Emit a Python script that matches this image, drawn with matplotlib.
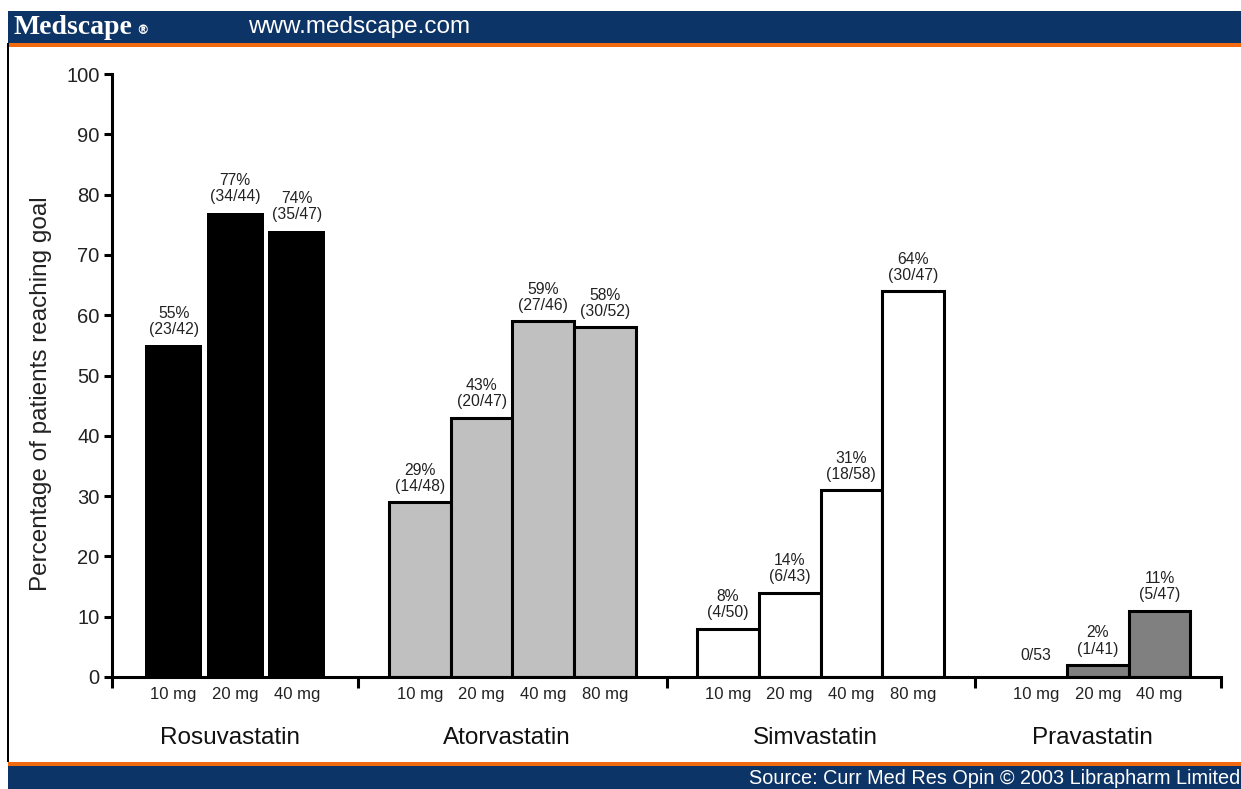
import matplotlib
matplotlib.use('Agg')
import matplotlib.pyplot as plt
from matplotlib.patches import Rectangle
import numpy as np

plt.rcParams['font.family'] = ['Liberation Sans', 'DejaVu Sans']

# percentage of patients reaching goal, by statin and dose
groups = ['Rosuvastatin', 'Atorvastatin', 'Simvastatin', 'Pravastatin']
rosu_doses = ['10 mg', '20 mg', '40 mg']
rosu_pct = [55, 77, 74]
rosu_n = ['23/42', '34/44', '35/47']
ator_doses = ['10 mg', '20 mg', '40 mg', '80 mg']
ator_pct = [29, 43, 59, 58]
ator_n = ['14/48', '20/47', '27/46', '30/52']
simv_doses = ['10 mg', '20 mg', '40 mg', '80 mg']
simv_pct = [8, 14, 31, 64]
simv_n = ['4/50', '6/43', '18/58', '30/47']
prav_doses = ['10 mg', '20 mg', '40 mg']
prav_pct = [0, 2, 11]
prav_n = ['0/53', '1/41', '5/47']

yticks = [0, 10, 20, 30, 40, 50, 60, 70, 80, 90, 100]

NAVY = '#0d3466'
ORANGE = '#f26a10'
W, H = 1241, 789

fig = plt.figure(figsize=(W / 100, H / 100), dpi=100)
fig.patch.set_facecolor('white')

def px_rect(x0, y0, x1, y1, color, z=1):
    # rectangle given in pixel coords measured from the top-left corner
    fig.add_artist(Rectangle((x0 / W, 1 - y1 / H), (x1 - x0) / W, (y1 - y0) / H,
                             transform=fig.transFigure, facecolor=color,
                             edgecolor='none', zorder=z))

# header / footer bands
px_rect(8, 11, W, 43, NAVY)
px_rect(8, 43, W, 47, ORANGE)
px_rect(8, 762, W, 766, ORANGE)
px_rect(8, 766, W, H, NAVY)
px_rect(7, 43, 9, 762, 'black')

fig.text(14 / W, 1 - 28 / H, 'Medscape', family=['Liberation Serif', 'DejaVu Serif'],
         fontsize=20, color='white', va='center', ha='left', fontweight='bold')
fig.text(136 / W, 1 - 30 / H, '\u00ae', family=['DejaVu Sans'], fontsize=9,
         color='white', va='center', ha='left', fontweight='bold')
fig.text(248 / W, 1 - 27 / H, 'www.medscape.com', fontsize=17.5, color='white',
         va='center', ha='left')
fig.text(1240 / W, 1 - 778 / H, 'Source: Curr Med Res Opin \u00a9 2003 Librapharm Limited',
         fontsize=14.3, color='white', va='center', ha='right')

ax = fig.add_axes([112 / W, 112 / H, (1221 - 112) / W, (715 - 112) / H])
ax.set_xlim(0, 18)
ax.set_ylim(0, 100)

# doses, values, counts, face, edge, bar width, edge width
series = [
    (rosu_doses, rosu_pct, rosu_n, 'black', 'black', 0.92, 0),
    (ator_doses, ator_pct, ator_n, '#c0c0c0', 'black', 1.0, 2.2),
    (simv_doses, simv_pct, simv_n, 'white', 'black', 1.0, 2.2),
    (prav_doses, prav_pct, prav_n, '#808080', 'black', 1.0, 2.2),
]

start = 0
bounds = [0]
xt = ax.get_xaxis_transform()
for name, (doses, pct, n, fc, ec, width, lw) in zip(groups, series):
    xs = start + 1 + np.arange(len(doses))
    shown = [p > 0 for p in pct]
    ax.bar(xs[shown], np.array(pct)[shown], width=width, color=fc,
           edgecolor=ec, linewidth=lw, zorder=2)
    for x, p, frac, d in zip(xs, pct, n, doses):
        lab = f'{p}%\n({frac})' if p > 0 else frac
        ax.annotate(lab, (x, p), xytext=(0, 6 if p > 0 else 10),
                    textcoords='offset points', ha='center', va='bottom',
                    fontsize=11.3, color='#222222', linespacing=1.1)
        ax.annotate(d, (x, 0), xycoords=xt, xytext=(0, -12.5),
                    textcoords='offset points', ha='center', va='center',
                    fontsize=12, color='#222222')
    end = start + len(doses) + 1
    ax.annotate(name, ((start + end) / 2, 0), xycoords=xt, xytext=(-4, -44),
                textcoords='offset points', ha='center', va='center',
                fontsize=17.5, color='#111111')
    bounds.append(end)
    start = end

for s in ['top', 'right']:
    ax.spines[s].set_visible(False)
for s in ['left', 'bottom']:
    ax.spines[s].set_linewidth(2.2)
    ax.spines[s].set_color('black')

ax.set_yticks(yticks)
ax.set_xticks(bounds)
ax.set_xticklabels([])
ax.tick_params(axis='y', length=6, width=2.2, pad=3, labelsize=14.5, labelcolor='#222222')
ax.tick_params(axis='x', length=8, width=2.2)

fig.text(41 / W, 1 - 394 / H, 'Percentage of patients reaching goal', rotation=90,
         fontsize=17.5, color='#222222', ha='center', va='center')

fig.savefig('out.png', dpi=100, facecolor='white')
